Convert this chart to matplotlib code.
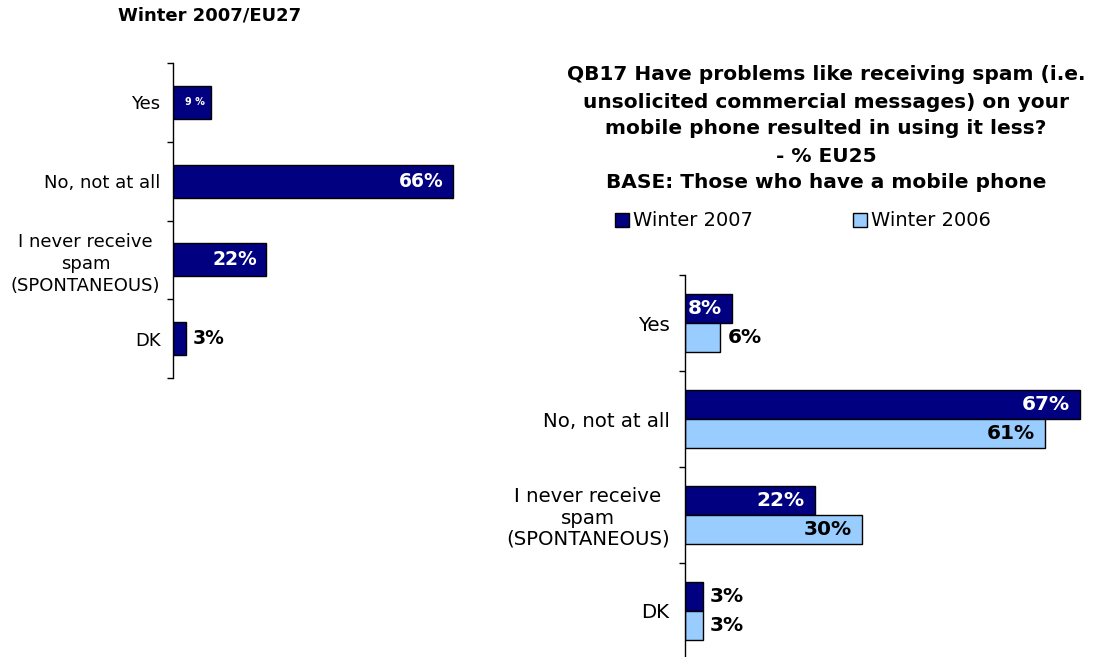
import matplotlib
matplotlib.use("Agg")
import matplotlib.pyplot as plt
from matplotlib.patches import Rectangle

plt.rcParams['font.family'] = ['DejaVu Sans']

categories = ["Yes", "No, not at all", "I never receive\nspam\n(SPONTANEOUS)", "DK"]
eu27_2007 = [9, 66, 22, 3]
eu25_2007 = [8, 67, 22, 3]
eu25_2006 = [6, 61, 30, 3]

NAVY = "#000080"
LIGHT = "#99CCFF"

W, H = 1097, 657
fig = plt.figure(figsize=(W / 100, H / 100), dpi=100)


def px_axes(x0, y_top, width, y_bot):
    return fig.add_axes([x0 / W, 1 - y_bot / H, width / W, (y_bot - y_top) / H])


def style_axis(ax, n, size, spacing, pad):
    ax.set_ylim(n - 0.5, -0.5)
    for s in ("top", "right", "bottom"):
        ax.spines[s].set_visible(False)
    ax.spines["left"].set_linewidth(1.0)
    ax.set_xticks([])
    ax.set_yticks(range(n))
    ax.set_yticklabels(categories, fontsize=size, linespacing=spacing)
    ax.tick_params(axis="y", which="major", length=0, pad=pad)
    ax.set_yticks([i - 0.5 for i in range(n + 1)], minor=True)
    ax.tick_params(axis="y", which="minor", length=4, width=1)
    for lbl in ax.get_yticklabels():
        lbl.set_horizontalalignment("right")
        lbl.set_multialignment("center")


def put_label(ax, val, y, inside, color, size, gap_in, gap_out):
    txt = f"{val}%"
    if inside:
        ax.text(val - gap_in, y, txt, ha="right", va="center", color=color,
                fontsize=size, fontweight="bold")
    else:
        ax.text(val + gap_out, y, txt, ha="left", va="center", color=color,
                fontsize=size, fontweight="bold")


n = len(categories)

# Left panel: EU27, Winter 2007
axL = px_axes(173, 63, 70 * 4.24, 378)
axL.set_xlim(0, 70)
axL.barh(range(n), eu27_2007, height=0.42, color=NAVY, edgecolor="black", linewidth=1)
style_axis(axL, n, size=13, spacing=1.3, pad=9)
axL.text(eu27_2007[0] - 1.4, 0, f"{eu27_2007[0]} %", ha="right", va="center",
         color="white", fontsize=7, fontweight="bold")
for i in (1, 2):
    put_label(axL, eu27_2007[i], i, True, "white", 13.5, 2.1, 1.6)
put_label(axL, eu27_2007[3], 3, False, "black", 13.5, 2.1, 1.6)

fig.text(118 / W, 1 - 15 / H, "Winter 2007/EU27", ha="left", va="center",
         fontsize=13, fontweight="bold")

# Right panel: EU25, Winter 2007 vs Winter 2006
axR = px_axes(685, 275, 70 * 5.9, 659)
axR.set_xlim(0, 70)
ys = list(range(n))
axR.barh([y - 0.15 for y in ys], eu25_2007, height=0.3, color=NAVY,
         edgecolor="black", linewidth=1)
axR.barh([y + 0.15 for y in ys], eu25_2006, height=0.3, color=LIGHT,
         edgecolor="black", linewidth=1)
style_axis(axR, n, size=14.2, spacing=1.15, pad=11)
inside07 = [True, True, True, False]
inside06 = [False, True, True, False]
for i in range(n):
    put_label(axR, eu25_2007[i], i - 0.15, inside07[i],
              "white" if inside07[i] else "black", 14.5, 1.7, 1.2)
    put_label(axR, eu25_2006[i], i + 0.15, inside06[i], "black", 14.5, 1.7, 1.2)

# Title block, one line at a time
title_lines = [
    "QB17 Have problems like receiving spam (i.e.",
    "unsolicited commercial messages) on your",
    "mobile phone resulted in using it less?",
    "- % EU25",
    "BASE: Those who have a mobile phone",
]
title_y = [75, 102, 129, 156, 182]
for txt, cy in zip(title_lines, title_y):
    fig.text(826 / W, 1 - cy / H, txt, ha="center", va="center",
             fontsize=14.5, fontweight="bold")

# Legend
legend_labels = ["Winter 2007", "Winter 2006"]
for x, col, lab in zip([615, 853], [NAVY, LIGHT], legend_labels):
    fig.patches.append(Rectangle((x / W, 1 - 227 / H), 14 / W, 14 / H,
                                 transform=fig.transFigure, facecolor=col,
                                 edgecolor="black", linewidth=1))
    fig.text((x + 18) / W, 1 - 220 / H, lab, ha="left", va="center", fontsize=14)

fig.savefig("out.png", dpi=100)
